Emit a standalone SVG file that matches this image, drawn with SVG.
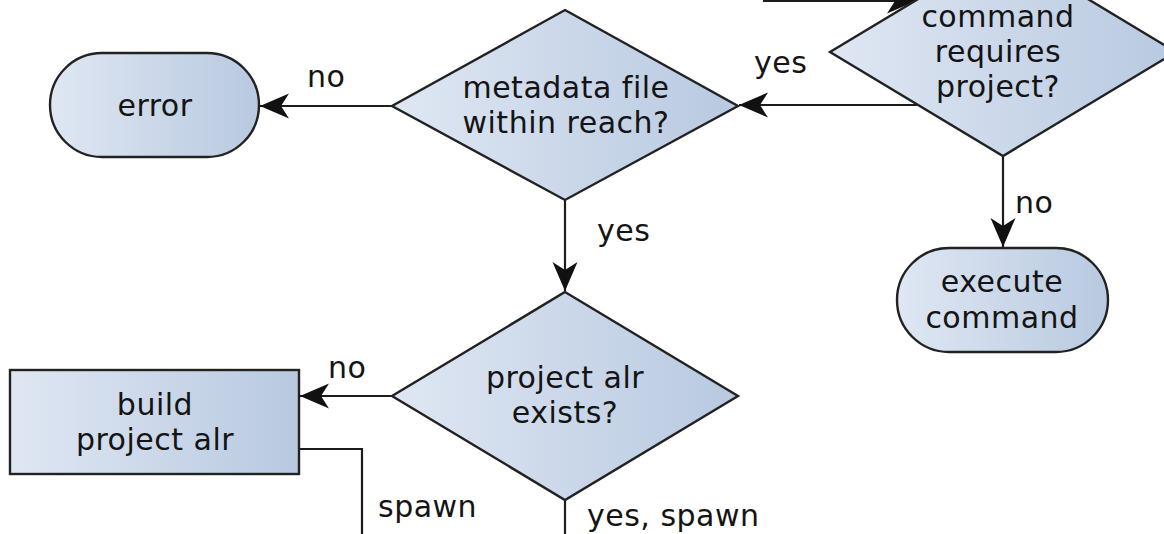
<svg xmlns="http://www.w3.org/2000/svg" width="1164" height="534" viewBox="0 0 1164 534">
  <style>
    .shape { stroke: #222; stroke-width: 2.4; fill: url(#nodeFill); }
    .edge { fill: none; stroke: #1c1c1c; stroke-width: 2.2; }
    .arrow { marker-end: url(#head); }
    text { font-family: "DejaVu Sans", Verdana, sans-serif; font-size: 30px; letter-spacing: 0.5px; fill: #141414; }
    .c { text-anchor: middle; }
  </style>
  <defs>
    <linearGradient id="nodeFill" x1="0" y1="0" x2="1" y2="0">
      <stop offset="0" stop-color="#dfe7f3"/>
      <stop offset="1" stop-color="#b8c9e0"/>
    </linearGradient>
    <marker id="head" markerUnits="userSpaceOnUse" markerWidth="32" markerHeight="28" viewBox="-30 -14 32 28" refX="0" refY="0" orient="auto">
      <path d="M0,0 L-29,-12.5 L-21,0 L-29,12.5 Z" fill="#111"/>
    </marker>
  </defs>

  <!-- connectors -->
  <g id="connectors">
    <path class="edge arrow" d="M763,1 H916"/>
    <path class="edge arrow" d="M917,105 H739"/>
    <path class="edge arrow" d="M392,106 H260"/>
    <path class="edge arrow" d="M565,200 V291"/>
    <path class="edge arrow" d="M1003,156 V247"/>
    <path class="edge arrow" d="M392,396 H300"/>
    <path class="edge" d="M299,449 H362 V540"/>
    <path class="edge" d="M565,500 V540"/>
    <text x="754" y="73">yes</text>
    <text x="307" y="87">no</text>
    <text x="597" y="241">yes</text>
    <text x="1015" y="213">no</text>
    <text x="328" y="378">no</text>
    <text x="378" y="517">spawn</text>
    <text x="587" y="526">yes, spawn</text>
  </g>

  <!-- decision: command requires project? -->
  <g id="command-requires-project">
    <polygon class="shape" points="1003,-52 1176,52 1003,156 830,52"/>
    <text class="c" x="998" y="27">command</text>
    <text class="c" x="998" y="62">requires</text>
    <text class="c" x="998" y="97">project?</text>
  </g>

  <!-- decision: metadata file within reach? -->
  <g id="metadata-within-reach">
    <polygon class="shape" points="565,10 738,106 565,200 392,106"/>
    <text class="c" x="566" y="98">metadata file</text>
    <text class="c" x="566" y="133">within reach?</text>
  </g>

  <!-- decision: project alr exists? -->
  <g id="project-alr-exists">
    <polygon class="shape" points="565,292 738,396 565,500 392,396"/>
    <text class="c" x="565" y="388">project alr</text>
    <text class="c" x="565" y="423">exists?</text>
  </g>

  <!-- terminal: error -->
  <g id="error">
    <rect class="shape" x="50" y="53" width="209" height="104" rx="52" ry="52"/>
    <text class="c" x="155" y="116">error</text>
  </g>

  <!-- terminal: execute command -->
  <g id="execute-command">
    <rect class="shape" x="897" y="248" width="211" height="104" rx="52" ry="52"/>
    <text class="c" x="1002" y="292">execute</text>
    <text class="c" x="1002" y="328">command</text>
  </g>

  <!-- process: build project alr -->
  <g id="build-project-alr">
    <rect class="shape" x="10" y="370" width="289" height="104"/>
    <text class="c" x="155" y="415">build</text>
    <text class="c" x="155" y="450">project alr</text>
  </g>
</svg>
